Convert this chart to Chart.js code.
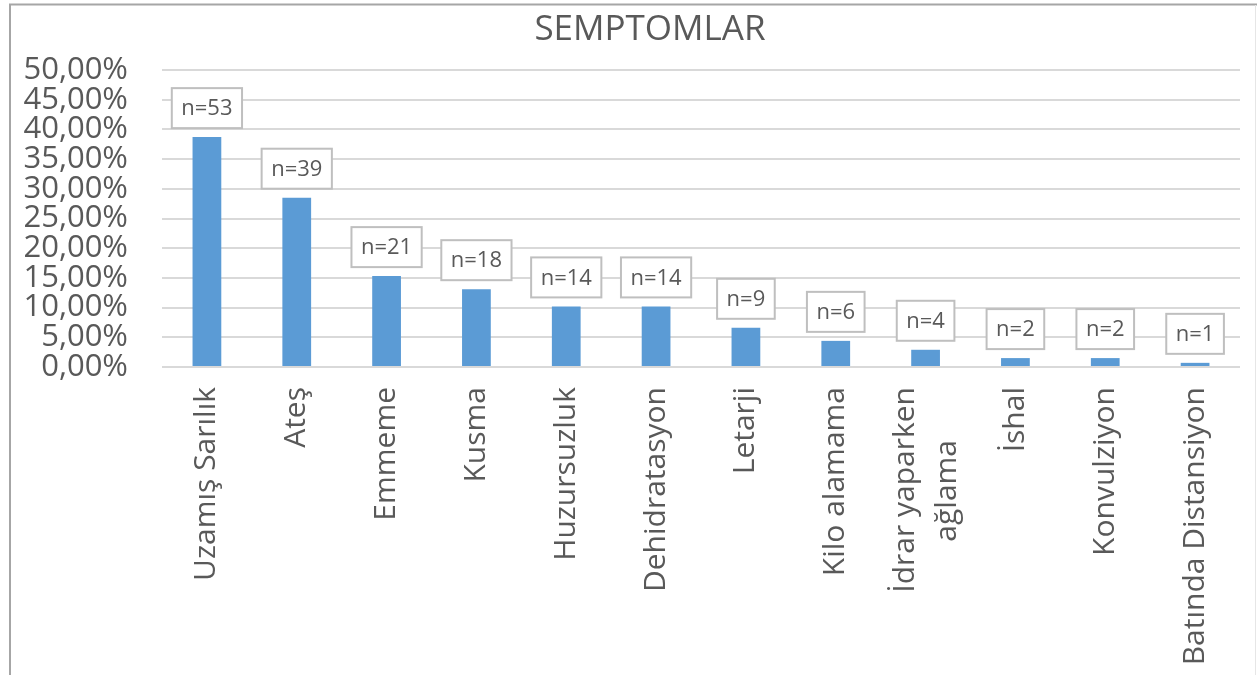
<!DOCTYPE html>
<html>
<head>
<meta charset="utf-8">
<script src="https://cdn.jsdelivr.net/npm/chart.js@4.4.0/dist/chart.umd.min.js"></script>
<style>
  html, body { margin: 0; padding: 0; background: #ffffff; }
  #c { display: block; }
</style>
</head>
<body>
<canvas id="c" width="1257" height="675"></canvas>
<script>
const chartTitle = "SEMPTOMLAR";
const categories = [
  "Uzamış Sarılık", "Ateş", "Emmeme", "Kusma", "Huzursuzluk", "Dehidratasyon",
  "Letarji", "Kilo alamama", ["İdrar yaparken", "ağlama"], "İshal", "Konvulziyon", "Batında Distansiyon"
];
const percentValues = [38.7, 28.5, 15.3, 13.1, 10.2, 10.2, 6.6, 4.4, 2.9, 1.5, 1.5, 0.7];
const countLabels = ["n=53", "n=39", "n=21", "n=18", "n=14", "n=14", "n=9", "n=6", "n=4", "n=2", "n=2", "n=1"];
const yTicks = [0, 5, 10, 15, 20, 25, 30, 35, 40, 45, 50];

const FONT = "'Open Sans', sans-serif";
const TEXT = "#595959";

const isWrapped = i => Array.isArray(categories[i]);

const framePlugin = {
  id: 'frame',
  beforeDraw(chart) {
    const ctx = chart.ctx;
    ctx.save();
    ctx.fillStyle = '#ffffff';
    ctx.fillRect(0, 0, chart.width, chart.height);
    ctx.strokeStyle = '#a6a6a6';
    ctx.lineWidth = 2;
    ctx.beginPath();
    ctx.moveTo(10, chart.height);
    ctx.lineTo(10, 4.5);
    ctx.lineTo(chart.width, 4.5);
    ctx.stroke();
    ctx.strokeStyle = '#e6e6e6';
    ctx.lineWidth = 1;
    ctx.beginPath();
    ctx.moveTo(1255.5, 5);
    ctx.lineTo(1255.5, chart.height);
    ctx.stroke();
    ctx.restore();
  },
  afterDraw(chart) {
    const ctx = chart.ctx;
    ctx.save();
    ctx.fillStyle = TEXT;
    ctx.font = "35px " + FONT;
    ctx.textAlign = 'center';
    ctx.textBaseline = 'middle';
    ctx.fillText(chartTitle, 650, 30);
    ctx.restore();
  }
};

const boxLabelPlugin = {
  id: 'boxLabels',
  afterDatasetsDraw(chart) {
    const ctx = chart.ctx;
    const meta = chart.getDatasetMeta(0);
    ctx.save();
    ctx.font = "22px " + FONT;
    ctx.textAlign = 'center';
    ctx.textBaseline = 'middle';
    meta.data.forEach((bar, i) => {
      const txt = countLabels[i];
      const w = ctx.measureText(txt).width + 19;
      const h = 40;
      const x = bar.x - w / 2;
      const y = bar.y - 9 - h;
      ctx.fillStyle = '#ffffff';
      ctx.fillRect(x, y, w, h);
      ctx.strokeStyle = '#bfbfbf';
      ctx.lineWidth = 2;
      ctx.strokeRect(x, y, w, h);
      ctx.fillStyle = TEXT;
      ctx.fillText(txt, bar.x, y + h / 2 + 1);
    });
    ctx.restore();
  }
};

const xTickFont = { family: FONT, size: 30 };

function zeroSidePadding(scale) {
  scale.paddingLeft = 0;
  scale.paddingRight = 0;
}

function overlayAxis(lineIdx, offset, pad) {
  return {
    type: 'category',
    labels: categories,
    position: { y: 0 },
    grid: { display: false, drawTicks: false },
    border: { display: false },
    ticks: {
      color: TEXT,
      font: xTickFont,
      minRotation: 90,
      maxRotation: 90,
      autoSkip: false,
      padding: pad,
      labelOffset: offset,
      callback: (v, i) => isWrapped(i) ? categories[i][lineIdx] : ''
    },
    afterFit: zeroSidePadding
  };
}

new Chart(document.getElementById('c'), {
  type: 'bar',
  data: {
    labels: categories,
    datasets: [{
      data: percentValues,
      backgroundColor: '#5B9BD5',
      borderWidth: 0,
      barPercentage: 0.32,
      categoryPercentage: 1.0
    }]
  },
  options: {
    responsive: false,
    animation: false,
    layout: { padding: { top: 70, right: 17, left: 0, bottom: 0 } },
    plugins: {
      legend: { display: false },
      title: { display: false },
      tooltip: { enabled: false }
    },
    scales: {
      x: {
        grid: { display: false, drawTicks: false },
        border: { display: false },
        ticks: {
          color: TEXT,
          font: xTickFont,
          minRotation: 90,
          maxRotation: 90,
          autoSkip: false,
          padding: 20,
          callback: (v, i) => isWrapped(i) ? '' : categories[i]
        },
        afterFit(scale) { scale.height = 308; zeroSidePadding(scale); }
      },
      xLine1: overlayAxis(0, -20, 20),
      xLine2: overlayAxis(1, 22, 73),
      y: {
        min: 0,
        max: 50,
        afterBuildTicks(scale) { scale.ticks = yTicks.map(v => ({ value: v })); },
        grid: { color: '#d9d9d9', lineWidth: 2, drawTicks: false },
        border: { display: false },
        ticks: {
          color: TEXT,
          font: { family: FONT, size: 31 },
          padding: 34,
          autoSkip: false,
          callback: v => v.toFixed(2).replace('.', ',') + '%'
        },
        afterFit(scale) { scale.width = 162; }
      }
    }
  },
  plugins: [framePlugin, boxLabelPlugin]
});
</script>
</body>
</html>
